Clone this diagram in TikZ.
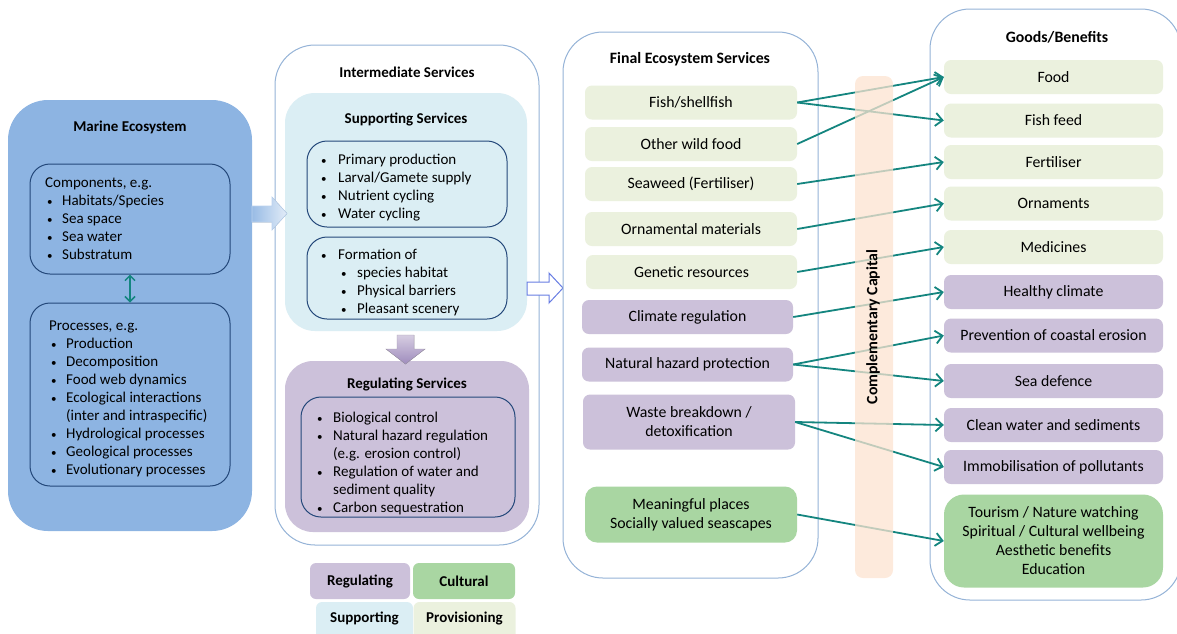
\documentclass[tikz,border=0pt]{standalone}
\usepackage{fontspec}
\setmainfont{Carlito}
\usetikzlibrary{arrows.meta}
\definecolor{marine}{HTML}{8DB4E2}
\definecolor{navy}{HTML}{24487A}
\definecolor{lightframe}{HTML}{95B3D7}
\definecolor{suppc}{HTML}{DBEEF4}
\definecolor{regulc}{HTML}{CCC1DA}
\definecolor{provc}{HTML}{EBF1DE}
\definecolor{cultc}{HTML}{A9D6A2}
\definecolor{peachc}{HTML}{FCE3D0}
\definecolor{linkc}{HTML}{14857F}
\definecolor{purpdark}{HTML}{9F8CBD}
\newcommand{\bul}{{\fontsize{11}{11}\selectfont\textbullet}}
\newcommand{\bitem}[2]{\makebox[#1][l]{\bul}#2}
\begin{document}
\begin{tikzpicture}[x=1pt,y=-1pt,
  font=\fontsize{15}{18}\selectfont,
  frame/.style={draw=lightframe, line width=1pt, fill=white, rounded corners=40pt},
  innerbox/.style={draw=navy, line width=1pt, rounded corners=20pt, inner sep=0pt},
  ttl/.style={font=\fontsize{15}{18}\selectfont\bfseries, inner sep=0pt},
  rttl/.style={font=\fontsize{15.8}{19}\selectfont\bfseries, inner sep=0pt},
  listtext/.style={anchor=north west, inner sep=0pt},
  provitem/.style={fill=provc, rounded corners=7pt, minimum height=34pt, inner sep=0pt, align=center, font=\fontsize{15.8}{19}\selectfont},
  regitem/.style={fill=regulc, rounded corners=7pt, minimum height=34pt, inner sep=0pt, align=center, font=\fontsize{15.8}{19}\selectfont},
  cultitem/.style={fill=cultc, rounded corners=12pt, inner sep=0pt, align=center, font=\fontsize{15.8}{19}\selectfont},
  link/.style={draw=linkc, line width=1.8pt, -{Straight Barb[length=7pt,width=13pt]}},
  legbox/.style={rounded corners=6pt, inner sep=0pt, font=\fontsize{15}{18}\selectfont\bfseries}
]
\useasboundingbox (0,0) rectangle (1177,633);
\clip (0,0) rectangle (1177,633);

% ---------- Marine ecosystem ----------
\path[fill=marine, rounded corners=40pt] (8,100) rectangle (252,531);
\node[ttl] (mtitle) at (130,127) {Marine Ecosystem};
\node[innerbox, minimum width=200pt, minimum height=110pt] (comp) at (130,219) {};
\node[innerbox, minimum width=200pt, minimum height=183pt] (proc) at (130,394.5) {};
\node[listtext] (comptext) at (45,175) {\begin{tabular}{@{}l@{}}
Components, e.g.\\
\hspace*{2pt}\bitem{15pt}{Habitats/Species}\\
\hspace*{2pt}\bitem{15pt}{Sea space}\\
\hspace*{2pt}\bitem{15pt}{Sea water}\\
\hspace*{2pt}\bitem{15pt}{Substratum}
\end{tabular}};
\node[listtext] (proctext) at (49,318) {\begin{tabular}{@{}l@{}}
Processes, e.g.\\
\hspace*{2pt}\bitem{15pt}{Production}\\
\hspace*{2pt}\bitem{15pt}{Decomposition}\\
\hspace*{2pt}\bitem{15pt}{Food web dynamics}\\
\hspace*{2pt}\bitem{15pt}{Ecological interactions}\\
\hspace*{17pt}(inter and intraspecific)\\
\hspace*{2pt}\bitem{15pt}{Hydrological processes}\\
\hspace*{2pt}\bitem{15pt}{Geological processes}\\
\hspace*{2pt}\bitem{15pt}{Evolutionary processes}
\end{tabular}};
\draw[draw=linkc, line width=1.5pt, {Straight Barb[length=5pt,width=10pt]}-{Straight Barb[length=5pt,width=10pt]}] (comp.south) -- (proc.north);

% ---------- Intermediate services ----------
\path[frame] (275,45) rectangle (539,545);
\node[ttl] (ititle) at (407,72) {Intermediate Services};
\path[fill=suppc, rounded corners=30pt] (285,93) rectangle (527,331);
\node[ttl] (stitle) at (406,119) {Supporting Services};
\node[innerbox, minimum width=200pt, minimum height=86pt] (sbox1) at (407,184) {};
\node[innerbox, minimum width=200pt, minimum height=82pt] (sbox2) at (407,278) {};
\node[listtext] (s1text) at (321,151.5) {\begin{tabular}{@{}l@{}}
\bitem{17pt}{Primary production}\\
\bitem{17pt}{Larval/Gamete supply}\\
\bitem{17pt}{Nutrient cycling}\\
\bitem{17pt}{Water cycling}
\end{tabular}};
\node[listtext] (s2text) at (321,246.5) {\begin{tabular}{@{}l@{}}
\bitem{17pt}{Formation of}\\
\hspace*{20pt}\bitem{16pt}{species habitat}\\
\hspace*{20pt}\bitem{16pt}{Physical barriers}\\
\hspace*{20pt}\bitem{16pt}{Pleasant scenery}
\end{tabular}};
\path[fill=regulc, rounded corners=28pt] (285,361) rectangle (529,532);
\node[ttl] (rtitle) at (407,384) {Regulating Services};
\node[innerbox, minimum width=214pt, minimum height=120pt] (rbox) at (408,457) {};
\node[listtext] (rtext) at (317,409.5) {\begin{tabular}{@{}l@{}}
\bitem{16pt}{Biological control}\\
\bitem{16pt}{Natural hazard regulation}\\
\hspace*{16pt}(e.g. erosion control)\\
\bitem{16pt}{Regulation of water and}\\
\hspace*{16pt}sediment quality\\
\bitem{16pt}{Carbon sequestration}
\end{tabular}};

% block arrows
\fill[left color=marine!90!white, right color=marine!25!white, draw=marine!60!white, line width=0.6pt]
  (252,206) -- (272,206) -- (272,197) -- (287,213.5) -- (272,230) -- (272,222) -- (252,222) -- cycle;
\fill[top color=regulc!80!white, bottom color=purpdark, draw=regulc!80!black, line width=0.4pt]
  (397,335) -- (414,335) -- (414,349) -- (425,349) -- (405.5,364) -- (386,349) -- (397,349) -- cycle;
\draw[draw=lightframe!70!blue, fill=white, line width=1pt]
  (527,282) -- (549,282) -- (549,273) -- (563,288) -- (549,303) -- (549,295) -- (527,295) -- cycle;

% legend
\node[legbox, fill=regulc, minimum width=100pt, minimum height=36pt] (legR) at (360,581) {Regulating};
\node[legbox, fill=cultc, minimum width=102pt, minimum height=36pt] (legC) at (464,581) {Cultural};
\node[legbox, fill=suppc, minimum width=97pt, minimum height=40pt] (legSbox) at (364.5,622) {};
\node[legbox, fill=provc, minimum width=102pt, minimum height=40pt] (legPbox) at (464.5,622) {};
\node[ttl] (legS) at (364.5,618) {Supporting};
\node[ttl] (legP) at (464.5,618) {Provisioning};

% ---------- Final ecosystem services ----------
\path[frame] (563,32) rectangle (818,578);
\node[rttl] (ftitle) at (690,59) {Final Ecosystem Services};
\node[provitem, minimum width=212pt] (fish) at (691,102.5) {Fish/shellfish};
\node[provitem, minimum width=212pt] (wild) at (691,144) {Other wild food};
\node[provitem, minimum width=212pt] (seaweed) at (691,184) {Seaweed (Fertiliser)};
\node[provitem, minimum width=212pt] (ornm) at (691,229) {Ornamental materials};
\node[provitem, minimum width=211pt] (genetic) at (691.5,272) {Genetic resources};
\node[regitem, minimum width=211pt] (climate) at (687.5,317) {Climate regulation};
\node[regitem, minimum width=211pt] (hazard) at (687.5,364.5) {Natural hazard protection};
\node[regitem, minimum width=212pt, minimum height=55pt] (waste) at (689,422) {Waste breakdown /\\detoxification};
\node[cultitem, minimum width=212pt, minimum height=56pt] (meaning) at (691,514.5) {Meaningful places\\Socially valued seascapes};

% ---------- Goods / Benefits ----------
\path[frame] (930,9) rectangle (1181,600);
\node[rttl] (gtitle) at (1057,37) {Goods/Benefits};
\node[provitem, minimum width=219pt] (food) at (1053.5,77) {Food};
\node[provitem, minimum width=219pt] (feed) at (1053.5,120.5) {Fish feed};
\node[provitem, minimum width=219pt] (fert) at (1053.5,162) {Fertiliser};
\node[provitem, minimum width=219pt] (orn) at (1053.5,203.5) {Ornaments};
\node[provitem, minimum width=219pt] (med) at (1053.5,247) {Medicines};
\node[regitem, minimum width=219pt] (healthy) at (1053.5,292) {Healthy climate};
\node[regitem, minimum width=219pt] (prevent) at (1053.5,335.5) {Prevention of coastal erosion};
\node[regitem, minimum width=219pt] (seadef) at (1053.5,381) {Sea defence};
\node[regitem, minimum width=219pt] (clean) at (1053.5,425) {Clean water and sediments};
\node[regitem, minimum width=219pt] (immob) at (1053.5,467) {Immobilisation of pollutants};
\node[cultitem, minimum width=219pt, minimum height=93pt, rounded corners=20pt] (tourism) at (1053.5,541)
  {Tourism / Nature watching\\Spiritual / Cultural wellbeing\\Aesthetic benefits\\Education};

% ---------- links ----------
\draw[link] (fish.east) -- (food.west);
\draw[link] (fish.east) -- (feed.west);
\draw[link] (wild.east) -- (food.west);
\draw[link] (seaweed.east) -- (fert.west);
\draw[link] (ornm.east) -- (orn.west);
\draw[link] (genetic.east) -- (med.west);
\draw[link] (climate.east) -- (healthy.west);
\draw[link] (hazard.east) -- (prevent.west);
\draw[link] (hazard.east) -- (seadef.west);
\draw[link] (waste.east) -- (clean.west);
\draw[link] (waste.east) -- (immob.west);
\draw[link] (meaning.east) -- (tourism.west);

% ---------- complementary capital ----------
\path[fill=peachc, fill opacity=0.75, rounded corners=8pt] (855,76) rectangle (893,578);
\node[rttl, rotate=90] (ccap) at (873,327) {Complementary Capital};
\end{tikzpicture}
\end{document}
